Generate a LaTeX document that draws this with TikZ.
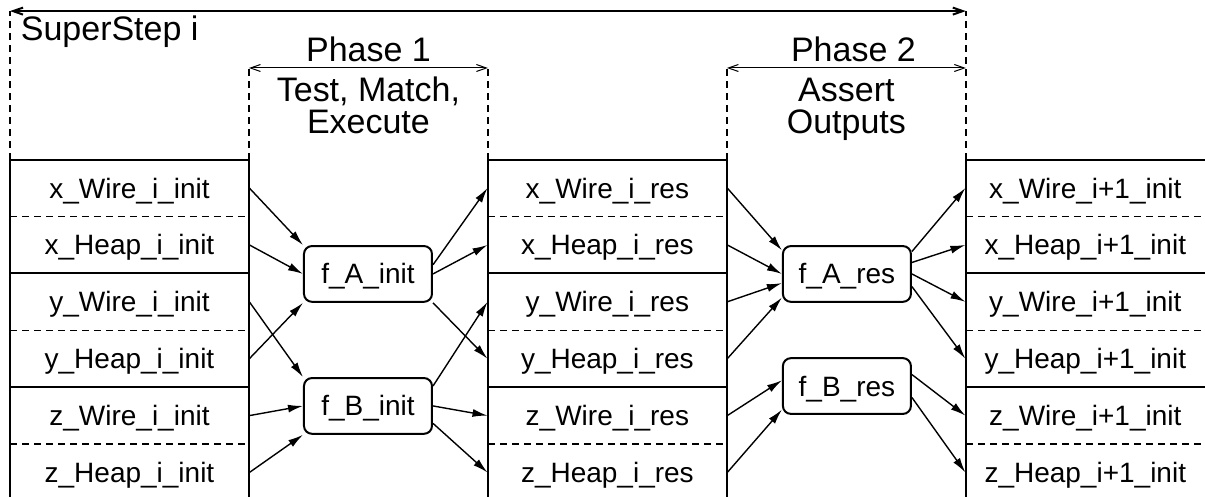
\documentclass[tikz,border=0pt]{standalone}
\usepackage{fontspec}
\setmainfont{Liberation Sans}
\usetikzlibrary{arrows.meta}
\begin{document}
\begin{tikzpicture}[cell/.style={minimum width=4.2cm, minimum height=1cm, inner sep=0pt, font=\fontsize{14}{17}\selectfont, text height=10pt, text depth=0pt},
		func/.style={draw, line width=1pt, rounded corners=4pt, minimum width=2.25cm, minimum height=0.98cm, inner sep=0pt, font=\fontsize{14}{17}\selectfont, text height=10pt, text depth=0pt},
		flow/.style={-{Latex[length=7.5pt, width=4pt]}, line width=0.7pt},
		span/.style={{Straight Barb[length=5pt, width=3.5pt]}-{Straight Barb[length=5pt, width=3.5pt]}},
		sep/.style={dash pattern=on 3.5pt off 2.5pt, line width=0.7pt},
		head/.style={font=\fontsize{17}{16}\selectfont, align=center}]
	\useasboundingbox (0,0) rectangle (21.18,8.735);
	\foreach \x in {0.176,8.576,16.976} {
		\foreach \y in {5.93,3.93,1.93} \draw[line width=1pt] (\x,\y) -- ++(4.2,0);
		\foreach \y in {4.93,2.93,0.93} \draw[sep] (\x,\y) -- ++(4.2,0);
	}
	\foreach \x in {0.176,4.376,8.576,12.776,16.976} \draw[line width=1pt] (\x,0) -- (\x,5.93);
	\foreach \x [count=\k] in {4.376,8.576,12.776} \draw[sep] (\x,5.93) -- (\x,7.54) coordinate (top\k);
	\draw[sep] (0.176,5.93) -- (0.176,8.54) coordinate (stepL);
	\draw[sep] (16.976,5.93) -- (16.976,8.54) coordinate (stepR);
	\draw[span, line width=1pt] (stepL) -- (stepR);
	\draw[span, line width=0.5pt] (top1) -- (top2);
	\draw[span, line width=0.5pt] (top3) -- (stepR |- top3);
	\node[head, anchor=base west, inner sep=0pt] (step) at (0.36,8.02) {SuperStep i};
	\node[head, anchor=base] (ph1) at (6.476,7.66) {Phase 1};
	\node[head, anchor=base] (ph2) at (15.0,7.66) {Phase 2};
	\node[head, anchor=base] (tme) at (6.476,6.39) {Test, Match,\\Execute};
	\node[head, anchor=base] (ao) at (14.876,6.39) {Assert\\Outputs};
	\foreach \cv [count=\r from 0] in {x,y,z} {
		\node[cell] (\cv W0) at (2.276,{5.43-2*\r}) {\cv\_Wire\_i\_init};
		\node[cell] (\cv H0) at (2.276,{4.43-2*\r}) {\cv\_Heap\_i\_init};
		\node[cell] (\cv W1) at (10.676,{5.43-2*\r}) {\cv\_Wire\_i\_res};
		\node[cell] (\cv H1) at (10.676,{4.43-2*\r}) {\cv\_Heap\_i\_res};
		\node[cell] (\cv W2) at (19.076,{5.43-2*\r}) {\cv\_Wire\_i+1\_init};
		\node[cell] (\cv H2) at (19.076,{4.43-2*\r}) {\cv\_Heap\_i+1\_init};
	}
	\node[func] (fAi) at (6.468,3.92) {f\_A\_init};
	\node[func] (fBi) at (6.468,1.6) {f\_B\_init};
	\node[func] (fAr) at (14.886,3.92) {f\_A\_res};
	\node[func] (fBr) at (14.886,1.95) {f\_B\_res};
	\foreach \a/\b in {xW0.east/fAi.north west, xH0.east/fAi.west, yW0.east/fBi.north west, yH0.east/fAi.south west, zW0.east/fBi.west, zH0.east/fBi.south west,
			fAi.8/xW1.west, fAi.east/xH1.west, fAi.south east/yH1.west, fBi.17/yW1.west, fBi.east/zW1.west, fBi.-15/zH1.west,
			xW1.east/fAr.160, xH1.east/fAr.west, yW1.east/fAr.188, yH1.east/fAr.200, zW1.east/fBr.175, zH1.east/fBr.200,
			fAr.19/xW2.west, fAr.10/xH2.west, fAr.east/yW2.west, fAr.-11/yH2.west, fBr.10/zW2.west, fBr.-10/zH2.west}
		\draw[flow] (\a) -- (\b);
\end{tikzpicture}
\end{document}
